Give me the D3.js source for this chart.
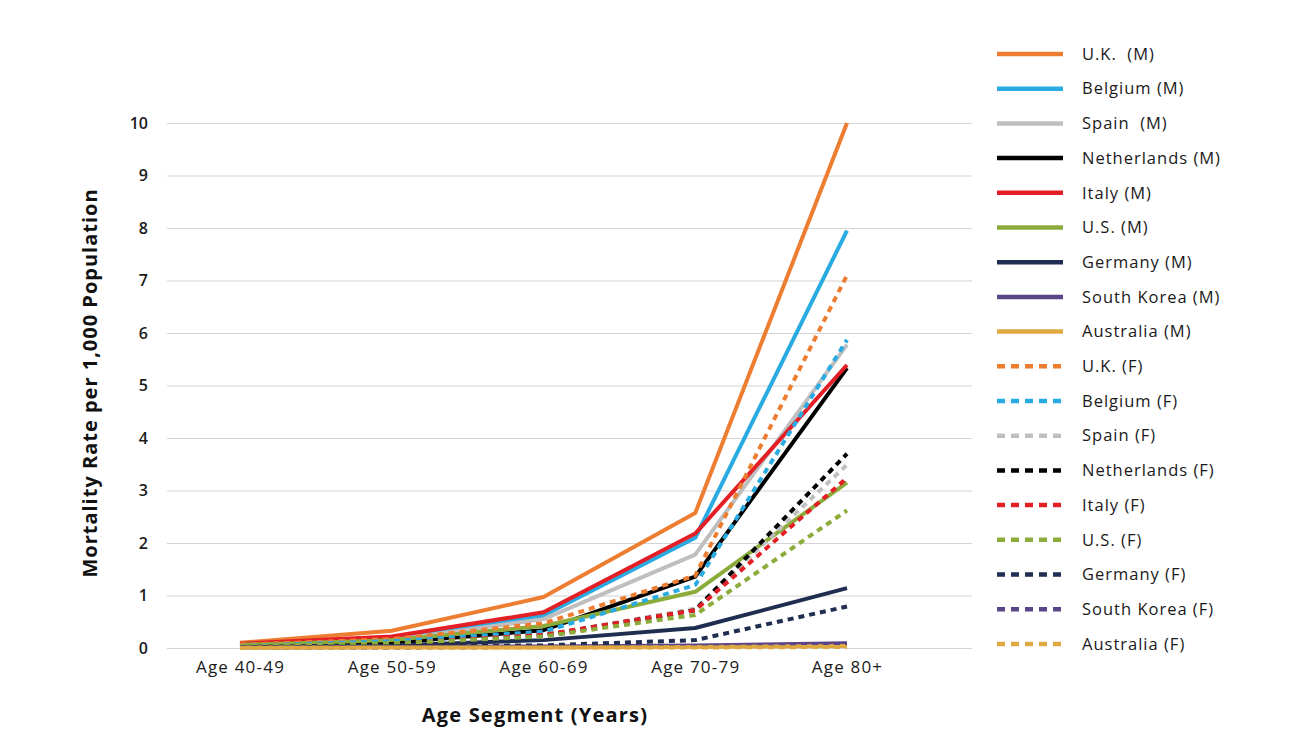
<!DOCTYPE html>
<html>
<head>
<meta charset="utf-8">
<script src="https://cdn.jsdelivr.net/npm/d3@7"></script>
<style>
  body { margin: 0; background: #fff; }
  svg { font-family: "Open Sans", sans-serif; }
</style>
</head>
<body>
<svg id="chart"></svg>
<script>
// age groups on the x axis
const ageGroups = ["Age 40-49", "Age 50-59", "Age 60-69", "Age 70-79", "Age 80+"];
const yTicks = [0, 1, 2, 3, 4, 5, 6, 7, 8, 9, 10];

// mortality per 1,000
const ukM = [0.10, 0.33, 0.97, 2.57, 10.0];
const belgiumM = [0.07, 0.20, 0.62, 2.10, 7.95];
const spainM = [0.05, 0.15, 0.55, 1.78, 5.78];
const netherlandsM = [0.04, 0.10, 0.34, 1.36, 5.33];
const italyM = [0.08, 0.22, 0.68, 2.18, 5.39];
const usM = [0.06, 0.15, 0.42, 1.07, 3.15];
const germanyM = [0.02, 0.05, 0.15, 0.38, 1.14];
const southKoreaM = [0.01, 0.02, 0.03, 0.05, 0.09];
const australiaM = [0.01, 0.01, 0.01, 0.02, 0.04];

const ukF = [0.06, 0.17, 0.47, 1.38, 7.10];
const belgiumF = [0.04, 0.13, 0.31, 1.20, 5.87];
const spainF = [0.03, 0.08, 0.24, 0.75, 3.49];
const netherlandsF = [0.03, 0.07, 0.24, 0.72, 3.70];
const italyF = [0.03, 0.08, 0.25, 0.72, 3.24];
const usF = [0.04, 0.09, 0.22, 0.63, 2.62];
const germanyF = [0.01, 0.03, 0.05, 0.15, 0.79];
const southKoreaF = [0.01, 0.01, 0.02, 0.03, 0.04];
const australiaF = [0.00, 0.01, 0.01, 0.01, 0.02];

const colors = {
  uk: "#ed7d31",
  belgium: "#29abe2",
  spain: "#bfbfbf",
  netherlands: "#000000",
  italy: "#e31e24",
  us: "#8bac3a",
  germany: "#1f2d50",
  southKorea: "#5b4589",
  australia: "#e0a840",
};

// legend order = draw order
const series = [
  { name: "U.K.  (M)", values: ukM, color: colors.uk, dashed: false },
  { name: "Belgium (M)", values: belgiumM, color: colors.belgium, dashed: false },
  { name: "Spain  (M)", values: spainM, color: colors.spain, dashed: false },
  { name: "Netherlands (M)", values: netherlandsM, color: colors.netherlands, dashed: false },
  { name: "Italy (M)", values: italyM, color: colors.italy, dashed: false },
  { name: "U.S. (M)", values: usM, color: colors.us, dashed: false },
  { name: "Germany (M)", values: germanyM, color: colors.germany, dashed: false },
  { name: "South Korea (M)", values: southKoreaM, color: colors.southKorea, dashed: false },
  { name: "Australia (M)", values: australiaM, color: colors.australia, dashed: false },
  { name: "U.K. (F)", values: ukF, color: colors.uk, dashed: true },
  { name: "Belgium (F)", values: belgiumF, color: colors.belgium, dashed: true },
  { name: "Spain (F)", values: spainF, color: colors.spain, dashed: true },
  { name: "Netherlands (F)", values: netherlandsF, color: colors.netherlands, dashed: true },
  { name: "Italy (F)", values: italyF, color: colors.italy, dashed: true },
  { name: "U.S. (F)", values: usF, color: colors.us, dashed: true },
  { name: "Germany (F)", values: germanyF, color: colors.germany, dashed: true },
  { name: "South Korea (F)", values: southKoreaF, color: colors.southKorea, dashed: true },
  { name: "Australia (F)", values: australiaF, color: colors.australia, dashed: true },
];

const width = 1300;
const height = 743;

const svg = d3.select("#chart").attr("width", width).attr("height", height);

const gridLeft = 167;
const gridRight = 972;

const x = d3.scalePoint().domain(ageGroups).range([240, 847]);
const y = d3.scaleLinear().domain([0, 10]).range([648, 123]);

// y axis + gridlines
const yAxis = svg
  .append("g")
  .attr("transform", `translate(${gridLeft},0)`)
  .call(
    d3.axisLeft(y).tickValues(yTicks).tickSize(-(gridRight - gridLeft)).tickPadding(19).tickFormat(d3.format("d"))
  );
yAxis.select(".domain").remove();
yAxis.selectAll(".tick line").attr("stroke", "#d4d4d4").attr("stroke-width", 1.2);
yAxis
  .selectAll(".tick text")
  .attr("fill", "#1a1a1a")
  .attr("font-size", 16)
  .attr("font-weight", 600)
  .attr("font-family", "'Open Sans', sans-serif");

// x axis labels
const xAxis = svg
  .append("g")
  .attr("transform", `translate(0,${y(0)})`)
  .call(d3.axisBottom(x).tickSize(0).tickPadding(13));
xAxis.select(".domain").remove();
xAxis
  .selectAll(".tick text")
  .attr("fill", "#1a1a1a")
  .attr("font-size", 17)
  .attr("letter-spacing", 1.2)
  .attr("font-family", "'Open Sans', sans-serif");

// axis titles
svg
  .append("text")
  .attr("x", 535)
  .attr("y", 722)
  .attr("text-anchor", "middle")
  .attr("font-size", 20)
  .attr("font-weight", 700)
  .attr("letter-spacing", 1.2)
  .attr("fill", "#111")
  .text("Age Segment (Years)");

svg
  .append("text")
  .attr("transform", "translate(97,383) rotate(-90)")
  .attr("text-anchor", "middle")
  .attr("font-size", 20)
  .attr("font-weight", 700)
  .attr("letter-spacing", 1.0)
  .attr("fill", "#111")
  .text("Mortality Rate per 1,000 Population");

// lines
const line = d3
  .line()
  .x((d, i) => x(ageGroups[i]))
  .y((d) => y(d));

svg
  .append("g")
  .selectAll("path")
  .data(series)
  .join("path")
  .attr("d", (d) => line(d.values))
  .attr("fill", "none")
  .attr("stroke", (d) => d.color)
  .attr("stroke-width", 4)
  .attr("stroke-linejoin", "round")
  .attr("stroke-dasharray", (d) => (d.dashed ? "6,5" : null));

// legend
const legendTop = 54;
const legendStep = 34.7;

const legend = svg
  .append("g")
  .selectAll("g")
  .data(series)
  .join("g")
  .attr("transform", (d, i) => `translate(997,${legendTop + i * legendStep})`);

legend
  .append("line")
  .attr("x1", 0)
  .attr("x2", 66)
  .attr("y1", 0)
  .attr("y2", 0)
  .attr("stroke", (d) => d.color)
  .attr("stroke-width", 4.5)
  .attr("stroke-dasharray", (d) => (d.dashed ? "8,6" : null));

legend
  .append("text")
  .attr("x", 85)
  .attr("y", 0)
  .attr("dy", "0.35em")
  .attr("font-size", 16.5)
  .attr("letter-spacing", 1.0)
  .attr("fill", "#1a1a1a")
  .style("white-space", "pre")
  .text((d) => d.name);
</script>
</body>
</html>
